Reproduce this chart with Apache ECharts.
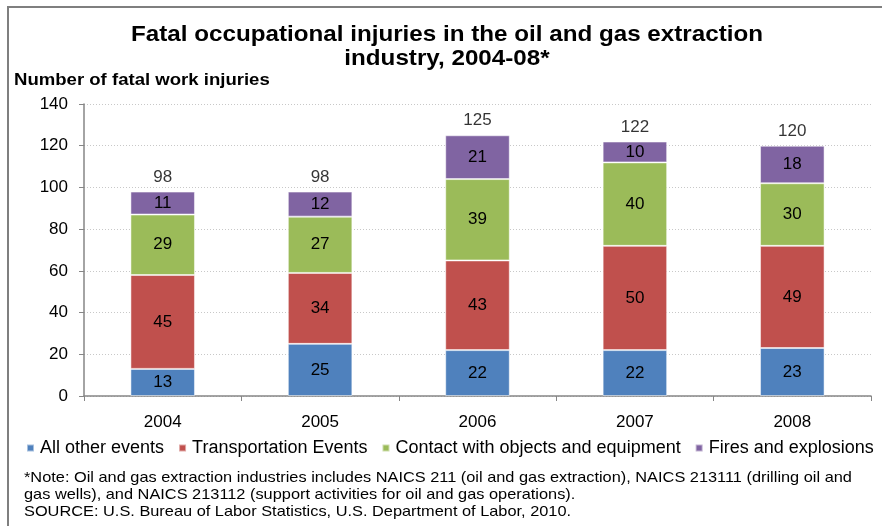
<!DOCTYPE html>
<html lang="en">
<head>
    <meta charset="UTF-8">
    <title>Fatal occupational injuries</title>
    <script src="https://cdn.jsdelivr.net/npm/echarts@6/dist/echarts.min.js"></script>
    <style>
        html, body { margin: 0; padding: 0; background: #fff; }
    </style>
</head>
<body>
    <div id="main" style="width: 882px;height:526px;"></div>
    <script type="text/javascript">
        // values
        const years = ['2004', '2005', '2006', '2007', '2008'];
        const allOther = [13, 25, 22, 22, 23];
        const transport = [45, 34, 43, 50, 49];
        const contact = [29, 27, 39, 40, 30];
        const fires = [11, 12, 21, 10, 18];
        const totals = [98, 98, 125, 122, 120];
        const yTicks = [0, 20, 40, 60, 80, 100, 120, 140];

        const font = 'Arial, "Liberation Sans", sans-serif';

        let myChart = echarts.init(document.getElementById('main'));

        function stackSeries(name, data, color) {
            return {
                name: name,
                type: 'bar',
                stack: 'total',
                data: data,
                barWidth: '41%',
                itemStyle: { color: color, borderColor: 'rgba(255,255,255,0.5)', borderWidth: 1 },
                label: {
                    show: true,
                    position: 'inside',
                    color: '#000',
                    fontSize: 17,
                    fontFamily: font
                }
            };
        }

        let options = {
            animation: false,
            legend: {
                data: ['All other events', 'Transportation Events', 'Contact with objects and equipment', 'Fires and explosions'],
                left: 21,
                top: 434,
                icon: 'rect',
                itemWidth: 7,
                itemHeight: 7,
                itemGap: 14,
                textStyle: { fontSize: 18, fontFamily: font, color: '#000', padding: [0, 0, 0, 1] }
            },
            grid: { left: 84, right: 11, top: 104, bottom: 130 },
            xAxis: {
                type: 'category',
                data: years,
                axisLine: { lineStyle: { color: '#868686', width: 1.5 } },
                axisTick: { show: true, length: 5, lineStyle: { color: '#868686' } },
                axisLabel: { fontSize: 17, fontFamily: font, color: '#000', margin: 18 }
            },
            yAxis: {
                type: 'value',
                min: 0,
                max: 140,
                interval: 20,
                axisLine: { show: true, lineStyle: { color: '#868686', width: 1.5 } },
                axisTick: { show: true, length: 5, lineStyle: { color: '#868686' } },
                axisLabel: {
                    fontSize: 17, fontFamily: font, color: '#000', margin: 16,
                    formatter: v => yTicks.includes(v) ? String(v) : ''
                },
                splitLine: { lineStyle: { color: '#c8c8c8', type: [1, 2] } }
            },
            series: [
                stackSeries('All other events', allOther, '#4F81BD'),
                stackSeries('Transportation Events', transport, '#C0504D'),
                stackSeries('Contact with objects and equipment', contact, '#9BBB59'),
                stackSeries('Fires and explosions', fires, '#8064A2'),
                {
                    name: 'Total',
                    type: 'scatter',
                    data: totals,
                    symbolSize: 0,
                    silent: true,
                    label: {
                        show: true,
                        position: 'top',
                        distance: 6,
                        color: '#000',
                        fontSize: 17,
                        fontFamily: font
                    }
                }
            ],
            graphic: [
                {
                    type: 'rect',
                    shape: { x: 8, y: 7, width: 900, height: 540 },
                    style: { fill: 'none', stroke: '#7f7f7f', lineWidth: 2 },
                    silent: true
                },
                {
                    // title, stretched a little to match the wide lettering
                    type: 'text',
                    x: 447,
                    y: 23,
                    scaleX: 1.1,
                    style: {
                        text: 'Fatal occupational injuries in the oil and gas extraction\nindustry, 2004-08*',
                        align: 'center',
                        verticalAlign: 'top',
                        fontSize: 22,
                        lineHeight: 24,
                        fontWeight: 'bold',
                        fontFamily: font,
                        fill: '#000'
                    }
                },
                {
                    type: 'text',
                    x: 14,
                    y: 73,
                    scaleX: 1.16,
                    style: {
                        text: 'Number of fatal work injuries',
                        verticalAlign: 'top',
                        fontSize: 16,
                        fontWeight: 'bold',
                        fontFamily: font,
                        fill: '#000'
                    }
                },
                {
                    type: 'text',
                    x: 24,
                    y: 469,
                    scaleX: 1.09,
                    style: {
                        text: '*Note: Oil and gas extraction industries includes NAICS 211 (oil and gas extraction), NAICS 213111 (drilling oil and\ngas wells), and NAICS 213112 (support activities for oil and gas operations).\nSOURCE: U.S. Bureau of Labor Statistics, U.S. Department of Labor, 2010.',
                        verticalAlign: 'top',
                        fontSize: 15,
                        lineHeight: 17,
                        fontFamily: font,
                        fill: '#000'
                    }
                }
            ]
        };

        myChart.setOption(options);
    </script>
</body>
</html>
